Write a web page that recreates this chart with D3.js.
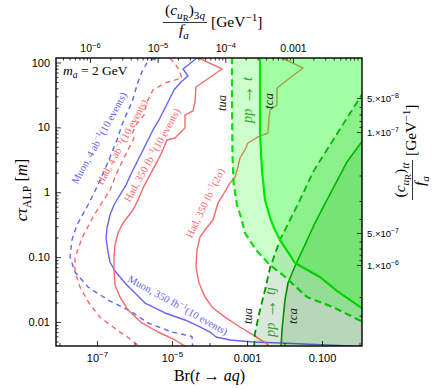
<!DOCTYPE html>
<html><head><meta charset="utf-8">
<script src="https://cdn.jsdelivr.net/npm/d3@7"></script>
<style>body{margin:0;background:#fff}</style>
</head><body><svg id="c" width="440" height="389"></svg>
<script>
// ---- data: [Br(t->aq), c*tau (m)] ----
const muon4ab = [[3.52e-6,117],[2.15e-6,98.2],[1.58e-6,71.4],[1.24e-6,50],[8.58e-7,24.6],[4.94e-7,12.1],[3.42e-7,6.39],[1.97e-7,2.93],[1.06e-7,1.29],[5.75e-8,0.636],[2.93e-8,0.313],[2.15e-8,0.184],[1.91e-8,0.1005],[2.59e-8,0.059],[5.75e-8,0.0346],[1.97e-7,0.0218],[8.58e-7,0.01426],[2.29e-6,0.00966],[1.0e-5,0.00701],[3.42e-5,0.00598],[3.56e-5,0.004]];
const had4ab = [[8.85e-6,117],[1.45e-5,82.3],[1.85e-5,57.7],[6.5e-6,48.3],[3.11e-6,37.7],[2.15e-6,24.6],[1.79e-6,15.5],[1.1e-6,10.9],[8.58e-7,7.9],[9.7e-7,6.86],[6.71e-7,4.48],[4.64e-7,2.93],[3.21e-7,1.85],[2.22e-7,1.08],[1.45e-7,0.733],[7.82e-8,0.415],[3.98e-8,0.197],[2.59e-8,0.097],[2.59e-8,0.059],[3.52e-8,0.0346],[6.12e-8,0.0196],[1.2e-7,0.0119],[3.42e-7,0.00753],[7.13e-7,0.00567],[1.69e-6,0.0038]];
const muon350 = [[4.64e-5,117],[1.97e-5,79.4],[2.67e-5,61.9],[1.74e-5,50],[1.13e-5,37.7],[8.32e-6,26.4],[6.12e-6,18.5],[4.5e-6,13],[3.11e-6,9.11],[2.29e-6,6.39],[1.69e-6,4.48],[1.24e-6,3.14],[8.58e-7,2.05],[5.93e-7,1.29],[4.1e-7,0.907],[2.84e-7,0.636],[2.22e-7,0.446],[1.85e-7,0.281],[1.74e-7,0.197],[1.97e-7,0.12],[2.22e-7,0.0841],[3.02e-7,0.0611],[5.58e-7,0.0399],[1.91e-6,0.0196],[6.5e-6,0.01377],[2.22e-5,0.01074],[5.58e-5,0.00838],[1.03e-4,0.00701],[1.49e-4,0.00587],[3.52e-4,0.00528],[1.45e-3,0.00492],[7.59e-3,0.00474],[1.17,0.00419]];
const had350 = [[5.25e-5,117],[2.15e-4,79.4],[4.36e-5,41.9],[4.1e-5,24.6],[3.63e-5,17.9],[2.22e-5,15.5],[2.22e-5,9.78],[1.63e-5,8.19],[1.2e-5,6.86],[7.36e-6,6.39],[5.41e-6,4.17],[3.98e-6,2.93],[2.59e-6,1.85],[1.69e-6,1.16],[1.24e-6,0.76],[9.12e-7,0.532],[4.94e-7,0.336],[3.63e-7,0.235],[3.02e-7,0.154],[2.84e-7,0.1],[2.84e-7,0.0633],[3.02e-7,0.0372],[4.1e-7,0.0243],[6.71e-7,0.0153],[1.58e-6,0.00966],[4.24e-6,0.00701],[1.2e-5,0.00528],[3.02e-5,0.0038]];
const had350sigma = [[8.58e-3,117],[3.11e-2,82.3],[6.31e-3,40.5],[6.31e-3,22.1],[4.1e-3,18.5],[3.86e-3,13.9],[3.63e-3,8.19],[1.97e-3,7.11],[1.06e-3,5.74],[8.85e-4,4.48],[6.5e-4,3.37],[5.75e-4,2.45],[4.79e-4,1.72],[3.52e-4,1.39],[2.29e-4,0.907],[1.69e-4,0.683],[1.24e-4,0.373],[7.59e-5,0.262],[5.58e-5,0.204],[4.64e-5,0.129],[4.36e-5,0.0705],[5.25e-5,0.0399],[7.59e-5,0.0243],[1.24e-4,0.0164],[2.59e-4,0.0119],[6.5e-4,0.00838],[1.45e-3,0.00631],[3.21e-3,0.00474],[4.36e-3,0.00398]];
const ppT_tua = [[3.98e-4,120],[3.98e-4,26.4],[4.1e-4,3.75],[4.36e-4,1.44],[5.41e-4,0.636],[6.92e-4,0.415],[8.85e-4,0.235],[1.74e-3,0.129],[4.1e-3,0.0756],[9.12e-3,0.053],[3.98e-2,0.0243],[0.197,0.017],[1.24,0.01]];
const ppT_tca = [[2.22e-3,120],[2.22e-3,8.19],[2.51e-3,2.2],[3.02e-3,0.76],[4.1e-3,0.415],[5.25e-3,0.281],[7.59e-3,0.184],[1.91e-2,0.0811],[8.85e-2,0.0494],[0.251,0.0301],[1.24,0.0159]];
const ppTj_tua = [[1.54e-3,0.004],[1.63e-3,0.00677],[2.22e-3,0.0153],[3.02e-3,0.0311],[4.1e-3,0.068],[7.59e-3,0.184],[1.4e-2,0.373],[2.59e-2,0.76],[5.75e-2,2.05],[0.163,5.35],[0.464,13.9],[1.24,33.9]];
const ppTj_tca = [[8.07e-3,0.004],[8.58e-3,0.00753],[1.03e-2,0.0218],[1.24e-2,0.0399],[1.91e-2,0.073],[3.52e-2,0.154],[6.12e-2,0.313],[0.136,0.76],[0.464,2.93],[1.24,6.39]];

// ---- ticks ----
const leftTicks = [100,10,1,0.1,0.01];
const leftLabels = ["100","10","1","0.10","0.01"];
const bottomTicks = [1e-7,1e-5,1e-3,1e-1];
const bottomLabels = ["10^−7","10^−5","0.001","0.100"];
const bottomMinor = [1e-8,1e-6,1e-4,1e-2,1];
const topTicks = [1e-6,1e-5,1e-4,1e-3];
const topLabels = ["10^−6","10^−5","10^−4","0.001"];
const rightTicks = [5e-8,1e-7,5e-7,1e-6];
const rightLabels = ["5.×10^−8","1.×10^−7","5.×10^−7","1.×10^−6"];

const BLUE="rgb(100,100,245)", RED="rgb(250,105,105)", GREEN="rgb(0,225,0)", DGREEN="rgb(0,150,0)";
const SERIF="'Liberation Serif','Times New Roman',serif", SANS="'Liberation Sans',Arial,sans-serif";

const svg = d3.select("#c");
const L=56,R=362,T=58,B=346;
const x = d3.scaleLog().domain([8.07e-9,1.167]).range([L,R]);
const y = d3.scaleLog().domain([0.004266,117.2]).range([B,T]);
const xTop = d3.scaleLog().domain([3.15e-7,1.047e-2]).range([L,R]);
const yRight = d3.scaleLog().domain([5e-8,1e-7,5e-7,1e-6]).range([98,132,233,265]);

svg.append("defs").append("clipPath").attr("id","clip").append("rect").attr("x",L).attr("y",T).attr("width",R-L).attr("height",B-T);
const g = svg.append("g").attr("clip-path","url(#clip)");
const line = d3.line().x(d=>x(d[0])).y(d=>y(d[1]));

function curve(data,color,w,dash){
  g.append("path").attr("d",line(data)).attr("fill","none").attr("stroke",color)
   .attr("stroke-width",w).attr("stroke-dasharray",dash||null).attr("stroke-linejoin","round");
}
function region(data,extra,fill){
  g.append("path").attr("d",line(data.concat(extra))+"Z").attr("fill",fill).attr("stroke","none");
}

curve(muon4ab,BLUE,1.4,"5,4");
curve(had4ab,RED,1.4,"5,4");
curve(muon350,BLUE,1.4);
curve(had350,RED,1.4);
curve(had350sigma,RED,1.4);
curve(ppTj_tua,DGREEN,1.8,"7,4");
curve(ppTj_tca,DGREEN,1.6);
curve(ppT_tua,GREEN,2.2,"7,4");
curve(ppT_tca,GREEN,2.2);

region(ppTj_tua,[[3,33.9],[3,0.001],[1.54e-3,0.001]],"rgba(0,110,0,0.15)");
region(ppTj_tca,[[3,6.39],[3,0.001],[8.07e-3,0.001]],"rgba(0,110,0,0.15)");
region(ppT_tua,[[3,0.01],[3,300],[3.98e-4,300]],"rgba(0,255,0,0.2)");
region(ppT_tca,[[3,0.0159],[3,300],[2.22e-3,300]],"rgba(0,255,0,0.2)");

// ---- rich text helper ----
function rich(parent, segs, size, family){
  const t = parent.append("text").attr("font-size",size).attr("font-family",family||SERIF);
  let cur=0;
  segs.forEach(s=>{
    const [txt,st] = Array.isArray(s)?s:[s,""];
    let off=0, fs=size;
    if(st.includes("_")){off=0.24*size; fs=0.72*size;}
    if(st.includes("^")){off=-0.38*size; fs=0.72*size;}
    if(st.includes("=")){off=0.4*size; fs=0.58*size;}
    if(st.includes("A")){off=0.06*size; fs=1.35*size;}
    const ts=t.append("tspan").text(txt).attr("font-size",fs);
    if(off-cur!==0) ts.attr("dy",off-cur);
    cur=off;
    if(st.includes("i")) ts.attr("font-style","italic");
  });
  return t;
}
function supLabel(sel, str, size){
  sel.each(function(){
    const el=d3.select(this); el.text(null);
    const parts=str.split("^");
    el.append("tspan").text(parts[0]);
    if(parts[1]) el.append("tspan").text(parts[1]).attr("font-size",size*0.72).attr("dy",-size*0.4);
  });
}

// ---- curve labels ----
function label(cx,cy,ang,segs,size,color){
  const gg=svg.append("g").attr("transform",`translate(${cx},${cy}) rotate(${ang})`);
  return rich(gg,segs,size).attr("text-anchor","middle").attr("y",size*0.35).attr("fill",color);
}
const ARROW=["\u2009→\u2009","A"];
label(99,138,-61,["Muon, 4 ab",["−1","^"],"(10 events)"],10.5,BLUE);
label(122,142,-61.5,["Had, 4 ab",["−1","^"],"(10 events)"],10.5,RED);
label(152,155,-61,["Had, 350 fb",["−1","^"],"(10 events)"],10.5,RED);
label(205,203,-64,["Had, 350 fb",["−1","^"],"(2σ)"],10.5,RED);
label(178,305,29,["Muon, 350 fb",["−1","^"],"(10 events)"],10.5,BLUE);
label(222,103,-90,[["tua","i"]],12.5,"#222");
label(268,101,-90,[["tca","i"]],13,"#222");
label(247,100,-90,[["pp","i"],ARROW,["t","i"]],14.5,"rgb(40,170,40)");
label(248,316,-90,[["tua","i"]],12.5,"#222");
label(270,312,-90,[["pp","i"],ARROW,["tj","i"]],14.5,"rgb(60,150,60)");
label(292,316,-90,[["tca","i"]],13,"#222");

rich(svg,[["m","i"],["a","_i"]," = 2 GeV"],13.5).attr("x",63).attr("y",75);

// ---- axes ----
function styleAxis(a){ a.select(".domain").remove(); a.selectAll("line").attr("stroke","#000").attr("stroke-width",0.8); a.selectAll("text").attr("font-family",SANS).attr("fill","#000"); }
const minorsY=[]; for(let k=-3;k<=2;k++) for(let m=2;m<=9;m++){const v=m*Math.pow(10,k); if(v>0.00427&&v<117) minorsY.push(v);}
const minorsTop=[]; for(let k=-7;k<=-2;k++) for(let m=2;m<=9;m++){const v=m*Math.pow(10,k); if(v>3.15e-7&&v<1.04e-2) minorsTop.push(v);}
const minorsRight=[6e-8,7e-8,8e-8,9e-8,2e-7,3e-7,4e-7,6e-7,7e-7,8e-7,9e-7,2e-6,3e-6];

let a;
a=svg.append("g").attr("transform",`translate(${L},0)`).call(d3.axisLeft(y).tickValues(minorsY).tickSizeInner(-2.5).tickSizeOuter(0).tickFormat(""));styleAxis(a);
a=svg.append("g").attr("transform",`translate(${L},0)`).call(d3.axisLeft(y).tickValues(leftTicks).tickSizeInner(-5).tickSizeOuter(0).tickPadding(6).tickFormat((d,i)=>leftLabels[i]));styleAxis(a);
a.selectAll("text").attr("font-size",11);

a=svg.append("g").attr("transform",`translate(0,${B})`).call(d3.axisBottom(x).tickValues(bottomMinor).tickSizeInner(-3).tickSizeOuter(0).tickFormat(""));styleAxis(a);
a=svg.append("g").attr("transform",`translate(0,${B})`).call(d3.axisBottom(x).tickValues(bottomTicks).tickSizeInner(-5).tickSizeOuter(0).tickPadding(8).tickFormat(""));styleAxis(a);
a.selectAll(".tick text").each(function(d,i){ supLabel(d3.select(this),bottomLabels[i],11); }).attr("font-size",11);

a=svg.append("g").attr("transform",`translate(0,${T})`).call(d3.axisTop(xTop).tickValues(minorsTop).tickSizeInner(-2.5).tickSizeOuter(0).tickFormat(""));styleAxis(a);
a=svg.append("g").attr("transform",`translate(0,${T})`).call(d3.axisTop(xTop).tickValues(topTicks).tickSizeInner(-5).tickSizeOuter(0).tickPadding(6).tickFormat(""));styleAxis(a);
a.selectAll(".tick text").each(function(d,i){ supLabel(d3.select(this),topLabels[i],10.5); }).attr("font-size",10.5);

a=svg.append("g").attr("transform",`translate(${R},0)`).call(d3.axisRight(yRight).tickValues(minorsRight).tickSizeInner(-2.5).tickSizeOuter(0).tickFormat(""));styleAxis(a);
a.selectAll(".tick").filter(d=>yRight(d)<T||yRight(d)>B).remove();
a=svg.append("g").attr("transform",`translate(${R},0)`).call(d3.axisRight(yRight).tickValues(rightTicks).tickSizeInner(-5).tickSizeOuter(0).tickPadding(5).tickFormat(""));styleAxis(a);
a.selectAll(".tick text").each(function(d,i){ supLabel(d3.select(this),rightLabels[i],9.5); }).attr("font-size",9.5);

svg.append("rect").attr("x",L).attr("y",T).attr("width",R-L).attr("height",B-T).attr("fill","none").attr("stroke","#000").attr("stroke-width",1.4);

// ---- axis titles ----
rich(svg,["Br(",["t","i"]," → ",["a","i"],["q","i"],")"],16).attr("text-anchor","middle").attr("x",209.5).attr("y",381);
rich(svg.append("g").attr("transform","translate(27,190) rotate(-90)"),[["c","i"],["τ","i"],["ALP","_"]," [",["m","i"],"]"],16.5).attr("text-anchor","middle");
// top title
rich(svg,["(",["c","i"],["u","_i"],["R","="],")",["3","_"],["q","_i"]],15.5).attr("text-anchor","middle").attr("x",185).attr("y",15);
svg.append("line").attr("x1",163).attr("x2",207).attr("y1",22.5).attr("y2",22.5).attr("stroke","#000").attr("stroke-width",0.8);
rich(svg,[["f","i"],["a","_i"]],15.5).attr("text-anchor","middle").attr("x",184).attr("y",35);
rich(svg,["[GeV",["−1","^"],"]"],15.5).attr("x",211).attr("y",27);
// right title
const rt=svg.append("g").attr("transform","translate(412,180) rotate(-90)");
rich(rt,["(",["c","i"],["u","_i"],["R","="],")",["tt","_i"]],15.5).attr("text-anchor","middle").attr("x",0).attr("y",-7);
rt.append("line").attr("x1",-20).attr("x2",20).attr("y1",0.5).attr("y2",0.5).attr("stroke","#000").attr("stroke-width",0.8);
rich(rt,[["f","i"],["a","_i"]],15.5).attr("text-anchor","middle").attr("x",-1).attr("y",13);
rich(rt,["[GeV",["−1","^"],"]"],15.5).attr("x",24).attr("y",4);
</script></body></html>
